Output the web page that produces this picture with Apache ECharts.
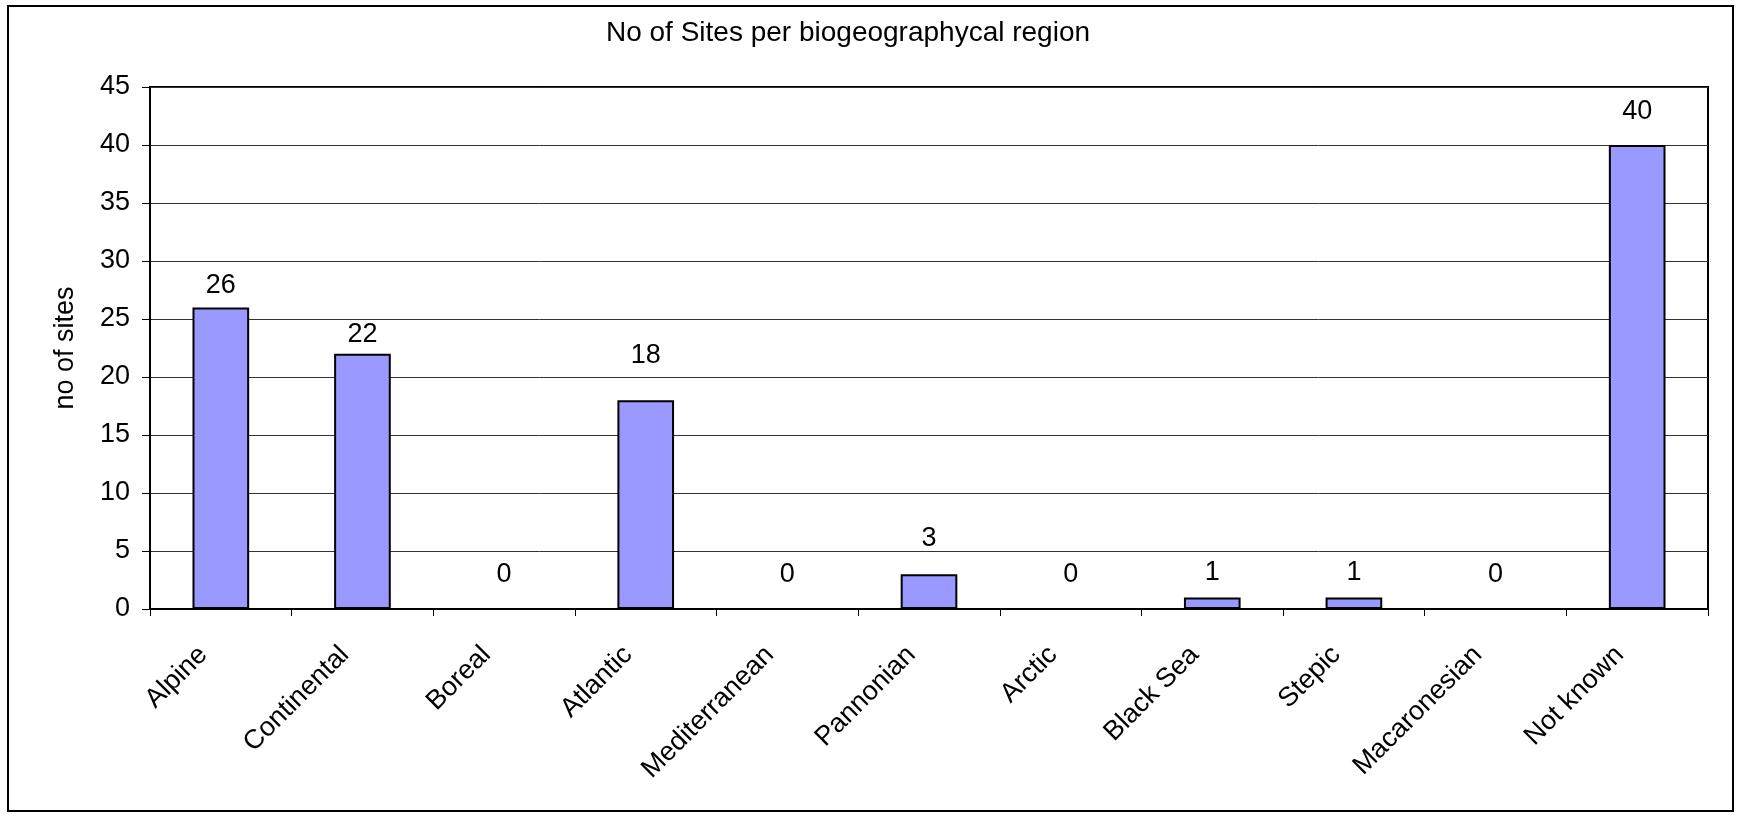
<!DOCTYPE html>
<html>
<head>
<meta charset="utf-8">
<script src="https://cdn.jsdelivr.net/npm/echarts@6/dist/echarts.min.js"></script>
<style>
  html, body { margin: 0; padding: 0; background: #fff; }
  #chart { width: 1738px; height: 815px; }
</style>
</head>
<body>
<div id="chart"></div>
<script>
// Sites counted per biogeographical region
const regions = ['Alpine', 'Continental', 'Boreal', 'Atlantic', 'Mediterranean',
  'Pannonian', 'Arctic', 'Black Sea', 'Stepic', 'Macaronesian', 'Not known'];
const siteCounts = [26, 22, 0, 18, 0, 3, 0, 1, 1, 0, 40];
const yTicks = [0, 5, 10, 15, 20, 25, 30, 35, 40, 45];

// Extra lift of each value label above its bar
const labelLift = [8, 6, 20, 31, 20, 22, 20, 11, 11, 20, 20];

const FONT = '"Liberation Sans", Arial, sans-serif';
const FS = 27;

const chart = echarts.init(document.getElementById('chart'), null, { renderer: 'canvas' });

chart.setOption({
  animation: false,
  backgroundColor: '#fff',
  textStyle: { fontFamily: FONT, color: '#000' },
  title: {
    text: 'No of Sites per biogeographycal region',
    left: 843,
    top: 14,
    textAlign: 'center',
    textStyle: { fontFamily: FONT, fontSize: 28, fontWeight: 'normal', color: '#000' }
  },
  graphic: [{
    type: 'rect',
    shape: { x: 8, y: 6, width: 1725, height: 805 },
    style: { fill: 'none', stroke: '#000', lineWidth: 2 },
    silent: true
  }],
  grid: {
    left: 150, right: 30, top: 87, bottom: 206,
    show: true, borderColor: '#000', borderWidth: 2,
    containLabel: false
  },
  xAxis: {
    type: 'category',
    data: regions,
    axisLine: { lineStyle: { color: '#000', width: 2 } },
    axisTick: { show: true, length: 7, lineStyle: { color: '#000', width: 1 } },
    axisLabel: {
      interval: 0, rotate: 45, margin: 24,
      padding: [0, 25, 0, 0],
      fontFamily: FONT, fontSize: FS, color: '#000'
    }
  },
  yAxis: {
    type: 'value',
    min: yTicks[0],
    max: yTicks[yTicks.length - 1],
    interval: yTicks[1] - yTicks[0],
    name: 'no of sites',
    nameLocation: 'middle',
    nameGap: 71,
    nameTextStyle: { fontFamily: FONT, fontSize: FS, color: '#000' },
    axisLine: { show: true, lineStyle: { color: '#000', width: 2 } },
    axisTick: { show: true, length: 8, lineStyle: { color: '#000', width: 1 } },
    axisLabel: { margin: 20, fontFamily: FONT, fontSize: FS, color: '#000' },
    splitLine: { show: true, lineStyle: { color: '#333', width: 1 } }
  },
  series: [{
    type: 'bar',
    barWidth: '40%',
    data: siteCounts.map((v, i) => ({
      value: v,
      label: { distance: labelLift[i] }
    })),
    itemStyle: { color: '#9999FF', borderColor: '#000', borderWidth: 2 },
    label: {
      show: true, position: 'top',
      fontFamily: FONT, fontSize: FS, color: '#000'
    }
  }]
});
</script>
</body>
</html>
